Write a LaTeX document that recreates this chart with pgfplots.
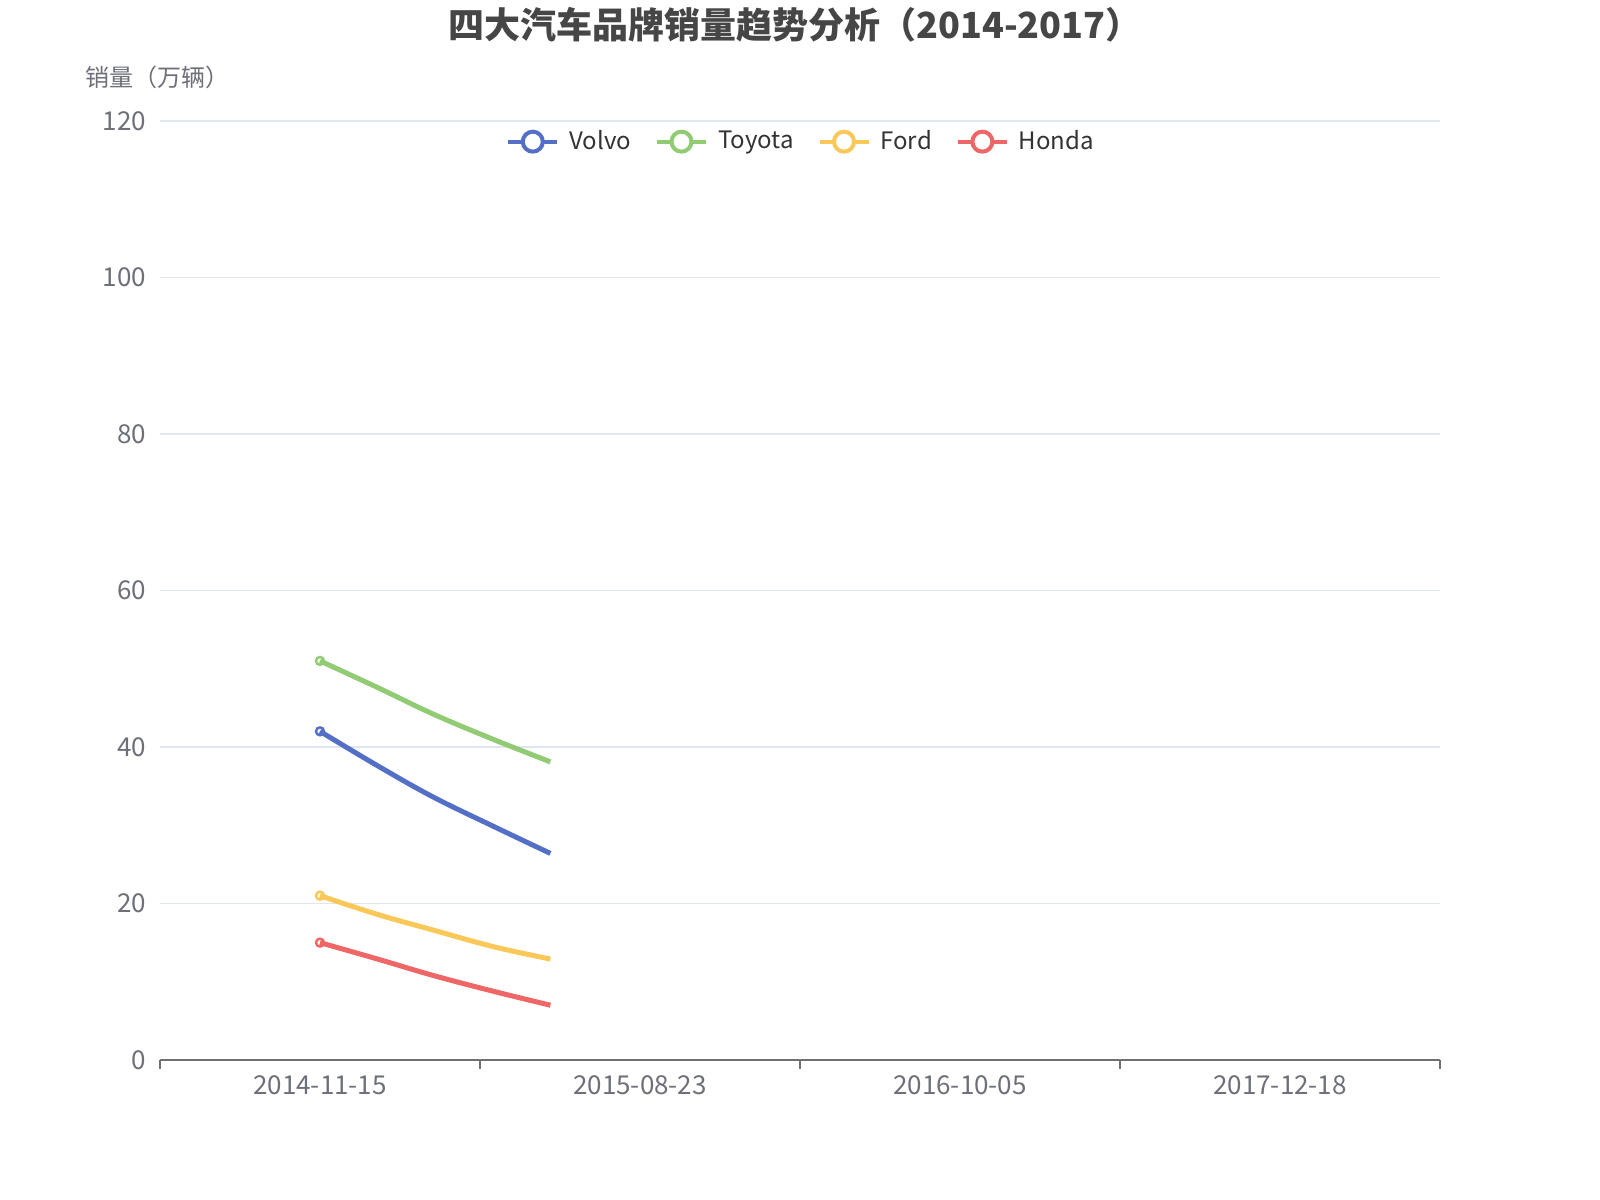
\documentclass[border=0pt]{standalone}
\usepackage{fontspec}
\setmainfont{Noto Sans CJK SC}
\usepackage{pgfplots}
\pgfplotsset{compat=1.18}

\definecolor{cVolvo}{HTML}{5470C6}
\definecolor{cToyota}{HTML}{91CC75}
\definecolor{cFord}{HTML}{FAC858}
\definecolor{cHonda}{HTML}{EE6666}
\definecolor{gridc}{HTML}{E0E6F1}
\definecolor{axisc}{HTML}{6E7079}
\definecolor{titlec}{HTML}{464646}
\definecolor{legc}{HTML}{333333}

% legend icon: line with hollow circle
\pgfplotsset{
  iconstyle/.style={
    legend image code/.code={
      \draw[line width=2bp,##1] (0bp,0bp) -- (24.5bp,0bp);
      \draw[line width=2bp,fill=white,##1] (12.25bp,0bp) circle (5bp);
    }
  },
  series/.style={line width=2.5bp, smooth, tension=0.6, mark=o, mark size=2bp,
    mark indices={1}, mark options={line width=1.2bp, fill=white}, iconstyle},
}

\begin{document}
\begin{tikzpicture}
\path[use as bounding box, fill=white] (0,0) rectangle (800bp,600bp);

\begin{axis}[
  at={(80bp,70bp)}, anchor=south west,
  scale only axis, width=640bp, height=469.5bp,
  xmin=-0.5, xmax=3.5, ymin=0, ymax=120,
  axis x line*=bottom, axis y line*=left,
  x axis line style={draw=axisc, line width=1bp},
  y axis line style={draw=none},
  xtick={0,1,2,3},
  xticklabels={2014-11-15,2015-08-23,2016-10-05,2017-12-18},
  minor xtick={-0.5,0.5,1.5,2.5,3.5},
  major tick length=0pt, minor tick length=4.3bp,
  tick align=outside,
  minor tick style={draw=axisc, line width=0.6bp},
  ytick={0,20,40,60,80,100,120},
  ytick style={draw=none},
  ymajorgrids, grid style={draw=gridc, line width=0.7bp},
  tick label style={font=\fontsize{13bp}{15bp}\selectfont, text=axisc},
  xticklabel style={anchor=base, yshift=-17.5bp},
  yticklabel style={anchor=east, xshift=-3.5bp},
  /pgf/number format/assume math mode=true,
  legend columns=4,
  legend style={draw=none, fill=none, at={(0.504,0.978)}, anchor=center,
    font=\fontsize{12bp}{14bp}\selectfont, text=legc,
    /tikz/every even column/.append style={column sep=7bp},
    nodes={inner xsep=5bp}},
  legend cell align=left,
  clip=false,
]
\addplot[cVolvo, series] coordinates {
(0,42) (0.18,37.6) (0.354,33.6) (0.54,29.9) (0.72,26.4)
};
\addlegendentry{Volvo}
\addplot[cToyota, series] coordinates {
(0,51) (0.18,47.6) (0.354,44.2) (0.54,41.0) (0.72,38.1)
};
\addlegendentry{Toyota}
\addplot[cFord, series] coordinates {
(0,21) (0.18,18.6) (0.354,16.6) (0.54,14.5) (0.72,12.9)
};
\addlegendentry{Ford}
\addplot[cHonda, series] coordinates {
(0,15) (0.18,12.9) (0.354,10.8) (0.54,8.8) (0.72,7.0)
};
\addlegendentry{Honda}
\end{axis}

\node[text=titlec, font=\fontsize{18bp}{20bp}\selectfont\bfseries] at (397.5bp,587.7bp)
  {四大汽车品牌销量趋势分析（2014-2017）};
\node[text=axisc, font=\fontsize{12bp}{14bp}\selectfont] at (78.5bp,561.5bp)
  {销量（万辆）};
\end{tikzpicture}
\end{document}
